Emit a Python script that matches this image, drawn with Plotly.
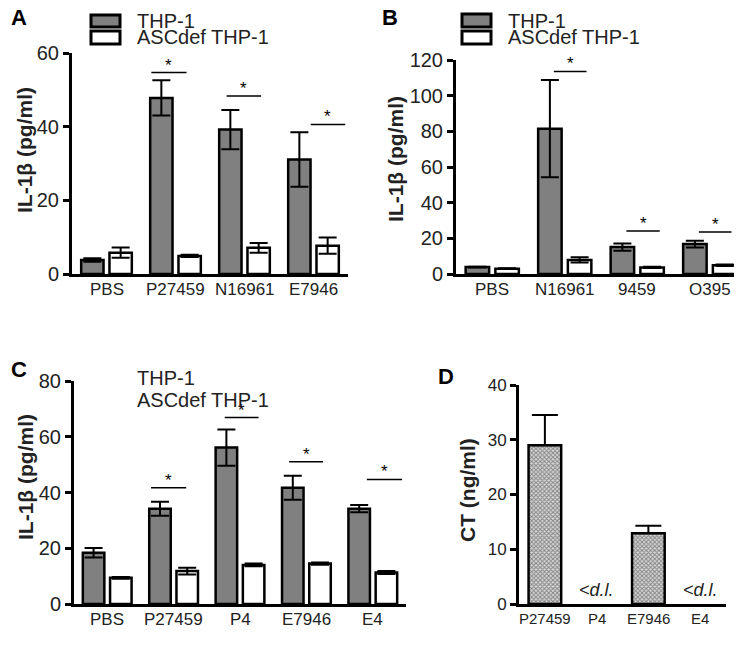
import plotly.graph_objects as go

# ---------------- data ----------------
series_names = ["THP-1", "ASCdef THP-1"]

cats_a = ["PBS", "P27459", "N16961", "E7946"]
thp_a = [3.8, 47.8, 39.2, 31.1]
thp_a_err = [0.5, 4.8, 5.3, 7.4]
asc_a = [5.8, 4.9, 7.1, 7.7]
asc_a_err = [1.4, 0.3, 1.3, 2.2]
sig_a_cat = [1, 2, 3]
sig_a_y = [54.7, 48.3, 40.6]

cats_b = ["PBS", "N16961", "9459", "O395"]
thp_b = [3.9, 81.5, 15.1, 16.8]
thp_b_err = [0.2, 27.3, 2.0, 1.9]
asc_b = [3.0, 7.9, 3.7, 4.9]
asc_b_err = [0.2, 1.5, 0.4, 0.4]
sig_b_cat = [1, 2, 3]
sig_b_y = [113.6, 24.1, 23.6]

cats_c = ["PBS", "P27459", "P4", "E7946", "E4"]
thp_c = [18.4, 34.2, 56.1, 41.7, 34.2]
thp_c_err = [1.7, 2.5, 6.5, 4.3, 1.3]
asc_c = [9.4, 11.8, 14.0, 14.5, 11.3]
asc_c_err = [0.3, 1.2, 0.5, 0.4, 0.5]
sig_c_cat = [1, 2, 3, 4]
sig_c_y = [41.7, 66.9, 51.0, 44.7]

cats_d = ["P27459", "P4", "E7946", "E4"]
ct_d = [29.0, None, 12.9, None]
ct_d_err = [5.5, 0, 1.4, 0]

# ---------------- style ----------------
FONT = "Liberation Sans, Arial, sans-serif"
GRAY = "#808080"
TXT = "#222222"
W, H = 742, 653

def px_x(p):
    return p / W

def px_y(p):
    return 1 - p / H

fig = go.Figure()

panels = {
    "a": dict(x=(64, 340), y=(266, 45), rng=60, dt=20, tick=20, lab=17),
    "b": dict(x=(448, 738), y=(266, 52), rng=120, dt=20, tick=20, lab=17),
    "c": dict(x=(66, 398), y=(596, 373), rng=80, dt=20, tick=20, lab=17),
    "d": dict(x=(511, 718), y=(596, 377), rng=40, dt=10, tick=17, lab=15),
}
axis_ids = {"a": ("x", "y"), "b": ("x2", "y2"), "c": ("x3", "y3"), "d": ("x4", "y4")}
panel_cats = {"a": cats_a, "b": cats_b, "c": cats_c, "d": cats_d}

def add_pair(key, cats, g, ge, w, we):
    xa, ya = axis_ids[key]
    fig.add_trace(go.Bar(
        x=cats, y=g, name=series_names[0], xaxis=xa, yaxis=ya,
        marker=dict(color=GRAY, line=dict(color="black", width=2.5)),
        error_y=dict(type="data", array=ge, color="black", thickness=2, width=9),
        showlegend=False))
    fig.add_trace(go.Bar(
        x=cats, y=w, name=series_names[1], xaxis=xa, yaxis=ya,
        marker=dict(color="white", line=dict(color="black", width=2.5)),
        error_y=dict(type="data", array=we, color="black", thickness=2, width=9),
        showlegend=False))

add_pair("a", cats_a, thp_a, thp_a_err, asc_a, asc_a_err)
add_pair("b", cats_b, thp_b, thp_b_err, asc_b, asc_b_err)
add_pair("c", cats_c, thp_c, thp_c_err, asc_c, asc_c_err)

fig.add_trace(go.Bar(
    x=cats_d, y=ct_d, xaxis="x4", yaxis="y4", width=0.63,
    marker=dict(color="white", line=dict(color="black", width=2.5),
                pattern=dict(shape="x", size=3, solidity=0.55,
                             fgcolor="#333333", bgcolor="#d8d8d8")),
    error_y=dict(type="data", array=ct_d_err, arrayminus=[0] * len(ct_d),
                 symmetric=False, color="black", thickness=2, width=13),
    showlegend=False))

# significance lines + asterisks
def add_sig(key, cat_idx, ys, offs):
    xa, ya = axis_ids[key]
    for i, yv, (o0, o1) in zip(cat_idx, ys, offs):
        fig.add_shape(type="line", xref=xa, yref=ya, x0=i + o0, x1=i + o1,
                      y0=yv, y1=yv, line=dict(color="black", width=1.5))
        fig.add_annotation(xref=xa, yref=ya, x=i + (o0 + o1) / 2, y=yv,
                           text="*", showarrow=False, yanchor="bottom",
                           font=dict(family=FONT, size=17, color="black"), yshift=-4)

add_sig("a", sig_a_cat, sig_a_y, [(-0.35, 0.16), (-0.26, 0.24), (-0.04, 0.46)])
add_sig("b", sig_b_cat, sig_b_y, [(-0.15, 0.30), (-0.15, 0.31), (-0.15, 0.30)])
add_sig("c", sig_c_cat, sig_c_y, [(-0.34, 0.19), (-0.23, 0.28), (-0.26, 0.25), (-0.09, 0.44)])

# below detection limit labels
for i, v in enumerate(ct_d):
    if v is None:
        fig.add_annotation(xref="x4", yref="y4", x=i, y=0, text="<i>&lt;d.l.</i>",
                           showarrow=False, yanchor="bottom", yshift=2,
                           font=dict(family=FONT, size=18, color=TXT))

# axes
layout_axes = {}
for n, key in enumerate(["a", "b", "c", "d"], start=1):
    p = panels[key]
    sfx = "" if n == 1 else str(n)
    cats = panel_cats[key]
    layout_axes["xaxis" + sfx] = dict(
        domain=[px_x(p["x"][0]), px_x(p["x"][1])], anchor="y" + sfx,
        type="category", showline=True, linecolor="black", linewidth=3,
        ticks="", showticklabels=False, showgrid=False, zeroline=False,
        automargin=False, range=[-0.5, len(cats) - 0.5])
    layout_axes["yaxis" + sfx] = dict(
        domain=[px_y(p["y"][0]), px_y(p["y"][1])], anchor="x" + sfx,
        range=[0, p["rng"]], dtick=p["dt"], tick0=0,
        showline=True, linecolor="black", linewidth=3,
        ticks="outside", ticklen=6, tickwidth=3, tickcolor="black",
        showgrid=False, zeroline=False, automargin=False,
        tickfont=dict(family=FONT, size=p["tick"], color=TXT))
    # category labels just below the axis
    for idx, c in enumerate(cats):
        fig.add_annotation(xref="x" + sfx, yref="paper", x=idx, y=px_y(p["y"][0]),
                           text=c, showarrow=False, xanchor="center", yanchor="top",
                           yshift=-4,
                           font=dict(family=FONT, size=p["lab"], color=TXT))

fig.update_layout(
    width=W, height=H, margin=dict(l=0, r=0, t=0, b=0),
    paper_bgcolor="white", plot_bgcolor="white",
    barmode="group", bargap=0.18, bargroupgap=0.21,
    font=dict(family=FONT, color=TXT),
    **layout_axes)

# axis titles
def ptitle(text, xc, yc, size=21):
    fig.add_annotation(xref="paper", yref="paper", x=px_x(xc), y=px_y(yc),
                       text="<b>" + text + "</b>", textangle=-90, showarrow=False,
                       xanchor="center", yanchor="middle",
                       font=dict(family=FONT, size=size, color=TXT))

ptitle("IL-1β (pg/ml)", 17, 142)
ptitle("IL-1β (pg/ml)", 388, 151)
ptitle("IL-1β (pg/ml)", 17, 469)
ptitle("CT (ng/ml)", 459, 482)

# panel letters
for letter, xl, yl in [("A", 1, 10), ("B", 372, 10), ("C", 1, 361), ("D", 428, 368)]:
    fig.add_annotation(xref="paper", yref="paper", x=px_x(xl), y=px_y(yl),
                       text="<b>" + letter + "</b>", showarrow=False,
                       xanchor="left", yanchor="middle",
                       font=dict(family=FONT, size=22, color="black"))

# legends
def legend(x0, rows, boxes=True):
    fills = [GRAY, "white"]
    for (t, b), fc, name in zip(rows, fills, series_names):
        if boxes:
            fig.add_shape(type="rect", xref="paper", yref="paper",
                          x0=px_x(x0), x1=px_x(x0 + 29), y0=px_y(b), y1=px_y(t),
                          fillcolor=fc, line=dict(color="black", width=3))
        fig.add_annotation(xref="paper", yref="paper", x=px_x(x0 + 44), y=px_y((t + b) / 2),
                           text=name, showarrow=False, xanchor="left", yanchor="middle",
                           font=dict(family=FONT, size=20, color=TXT))

legend(83, [(7, 19), (23, 36)])
legend(454, [(6, 19), (23, 36)])
legend(83, [(363, 377), (384, 400)], boxes=False)

fig.write_html("out.html")
